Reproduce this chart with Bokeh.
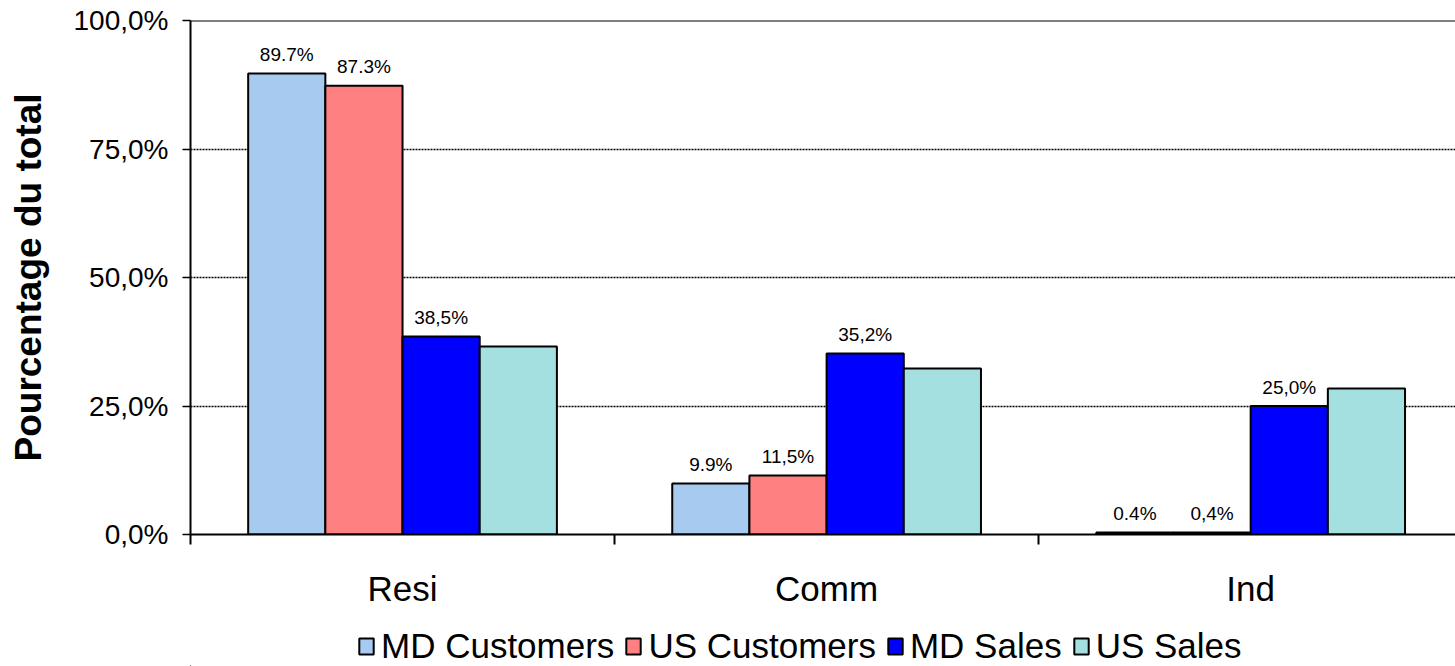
from bokeh.plotting import figure
from bokeh.layouts import column
from bokeh.models import Range1d, FixedTicker, Span, Legend, LegendItem, ColumnDataSource
from bokeh.core.properties import value
from bokeh.embed import file_html
from bokeh.resources import INLINE

# ---- data ----
categories = ["Resi", "Comm", "Ind"]
series_names = ["MD Customers", "US Customers", "MD Sales", "US Sales"]
md_customers = [89.7, 9.9, 0.4]
us_customers = [87.3, 11.5, 0.4]
md_sales = [38.5, 35.2, 25.0]
us_sales = [36.6, 32.3, 28.4]
md_customers_labels = ["89.7%", "9.9%", "0.4%"]
us_customers_labels = ["87.3%", "11,5%", "0,4%"]
md_sales_labels = ["38,5%", "35,2%", "25,0%"]
y_ticks = [0, 25, 50, 75, 100]
y_tick_labels = ["0,0%", "25,0%", "50,0%", "75,0%", "100,0%"]

colors = ["#A6CAF0", "#FF8080", "#0000FF", "#A4E0E0"]
FONT = "Liberation Sans"

series_values = [md_customers, us_customers, md_sales, us_sales]
series_labels = [md_customers_labels, us_customers_labels, md_sales_labels, None]

bar_w = 0.182
offsets = [-1.5 * bar_w, -0.5 * bar_w, 0.5 * bar_w, 1.5 * bar_w]
centers = [i + 0.5 for i in range(len(categories))]

p = figure(width=1455, height=620,
           x_range=Range1d(0, 2.983), y_range=Range1d(0, 100),
           output_backend="svg", toolbar_location=None,
           min_border_left=190, min_border_right=0,
           min_border_top=20, min_border_bottom=86)
p.outline_line_color = None
p.background_fill_color = "white"
p.border_fill_color = "white"

# grid
p.xgrid.visible = False
p.ygrid.ticker = FixedTicker(ticks=[25, 50, 75])
p.ygrid.grid_line_color = "black"
p.ygrid.grid_line_dash = "2 1"
p.ygrid.grid_line_width = 1.5

# top solid line
p.add_layout(Span(location=100, dimension="width", line_color="black", line_width=2))

for k, (name, vals, labs) in enumerate(zip(series_names, series_values, series_labels)):
    xs = [c + offsets[k] for c in centers]
    src = ColumnDataSource(dict(x=xs, top=vals))
    p.vbar(x="x", top="top", bottom=0, width=bar_w, source=src,
           fill_color=colors[k], line_color="black", line_width=2)
    if labs is not None:
        tsrc = ColumnDataSource(dict(x=xs, y=vals, t=labs))
        p.text(x="x", y="y", text="t", source=tsrc, text_align="center",
               text_baseline="alphabetic", y_offset=-19,
               text_font=value(FONT), text_font_size="19px", text_color="black")

# y axis
ya = p.yaxis[0]
ya.ticker = FixedTicker(ticks=y_ticks)
ya.major_label_overrides = {t: l for t, l in zip(y_ticks, y_tick_labels)}
ya.major_label_text_font = FONT
ya.major_label_text_font_size = "28px"
ya.major_label_text_color = "black"
ya.major_tick_out = 8
ya.major_tick_in = 0
ya.major_tick_line_width = 1.5
ya.minor_tick_line_color = None
ya.axis_line_width = 2
ya.major_label_standoff = 14
ya.axis_label = "Pourcentage du total"
ya.axis_label_text_font = FONT
ya.axis_label_text_font_style = "bold"
ya.axis_label_text_font_size = "37px"
ya.axis_label_text_color = "black"
ya.axis_label_standoff = 22

# x axis
xa = p.xaxis[0]
xa.ticker = FixedTicker(ticks=centers, minor_ticks=[0, 1, 2])
xa.major_label_overrides = {c: n for c, n in zip(centers, categories)}
xa.major_label_text_font = FONT
xa.major_label_text_font_size = "35px"
xa.major_label_text_color = "black"
xa.major_tick_line_color = None
xa.major_tick_out = 10
xa.major_tick_in = 0
xa.minor_tick_line_color = "black"
xa.minor_tick_line_width = 2
xa.minor_tick_out = 10
xa.minor_tick_in = 0
xa.axis_line_width = 2
xa.major_label_standoff = 24

# ---- legend strip (separate figure directly below) ----
lg = figure(width=1455, height=46, x_range=Range1d(0, 1), y_range=Range1d(0, 1),
            output_backend="svg", toolbar_location=None,
            x_axis_location=None, y_axis_location=None,
            min_border_left=190, min_border_right=0, min_border_top=0, min_border_bottom=0)
lg.outline_line_color = None
lg.xgrid.visible = False
lg.ygrid.visible = False
lg.background_fill_color = "white"
lg.border_fill_color = "white"

items = []
for k, name in enumerate(series_names):
    # one bar per series placed far outside the strip's ranges, only so the legend has a glyph
    r = lg.vbar(x=[-10], top=[-20], bottom=-30, width=0.1,
                fill_color=colors[k], line_color="black", line_width=2)
    items.append(LegendItem(label=name, renderers=[r]))

legend = Legend(items=items, location=(167, 0), orientation="horizontal")
legend.label_text_font = FONT
legend.label_text_font_size = "35px"
legend.label_text_color = "black"
legend.glyph_width = 18
legend.glyph_height = 20
legend.label_standoff = 6
legend.spacing = 10
legend.padding = 0
legend.margin = 0
legend.border_line_color = None
legend.background_fill_alpha = 0
lg.add_layout(legend)

layout = column(p, lg, spacing=0)
open("out.html", "w").write(file_html(layout, INLINE))
